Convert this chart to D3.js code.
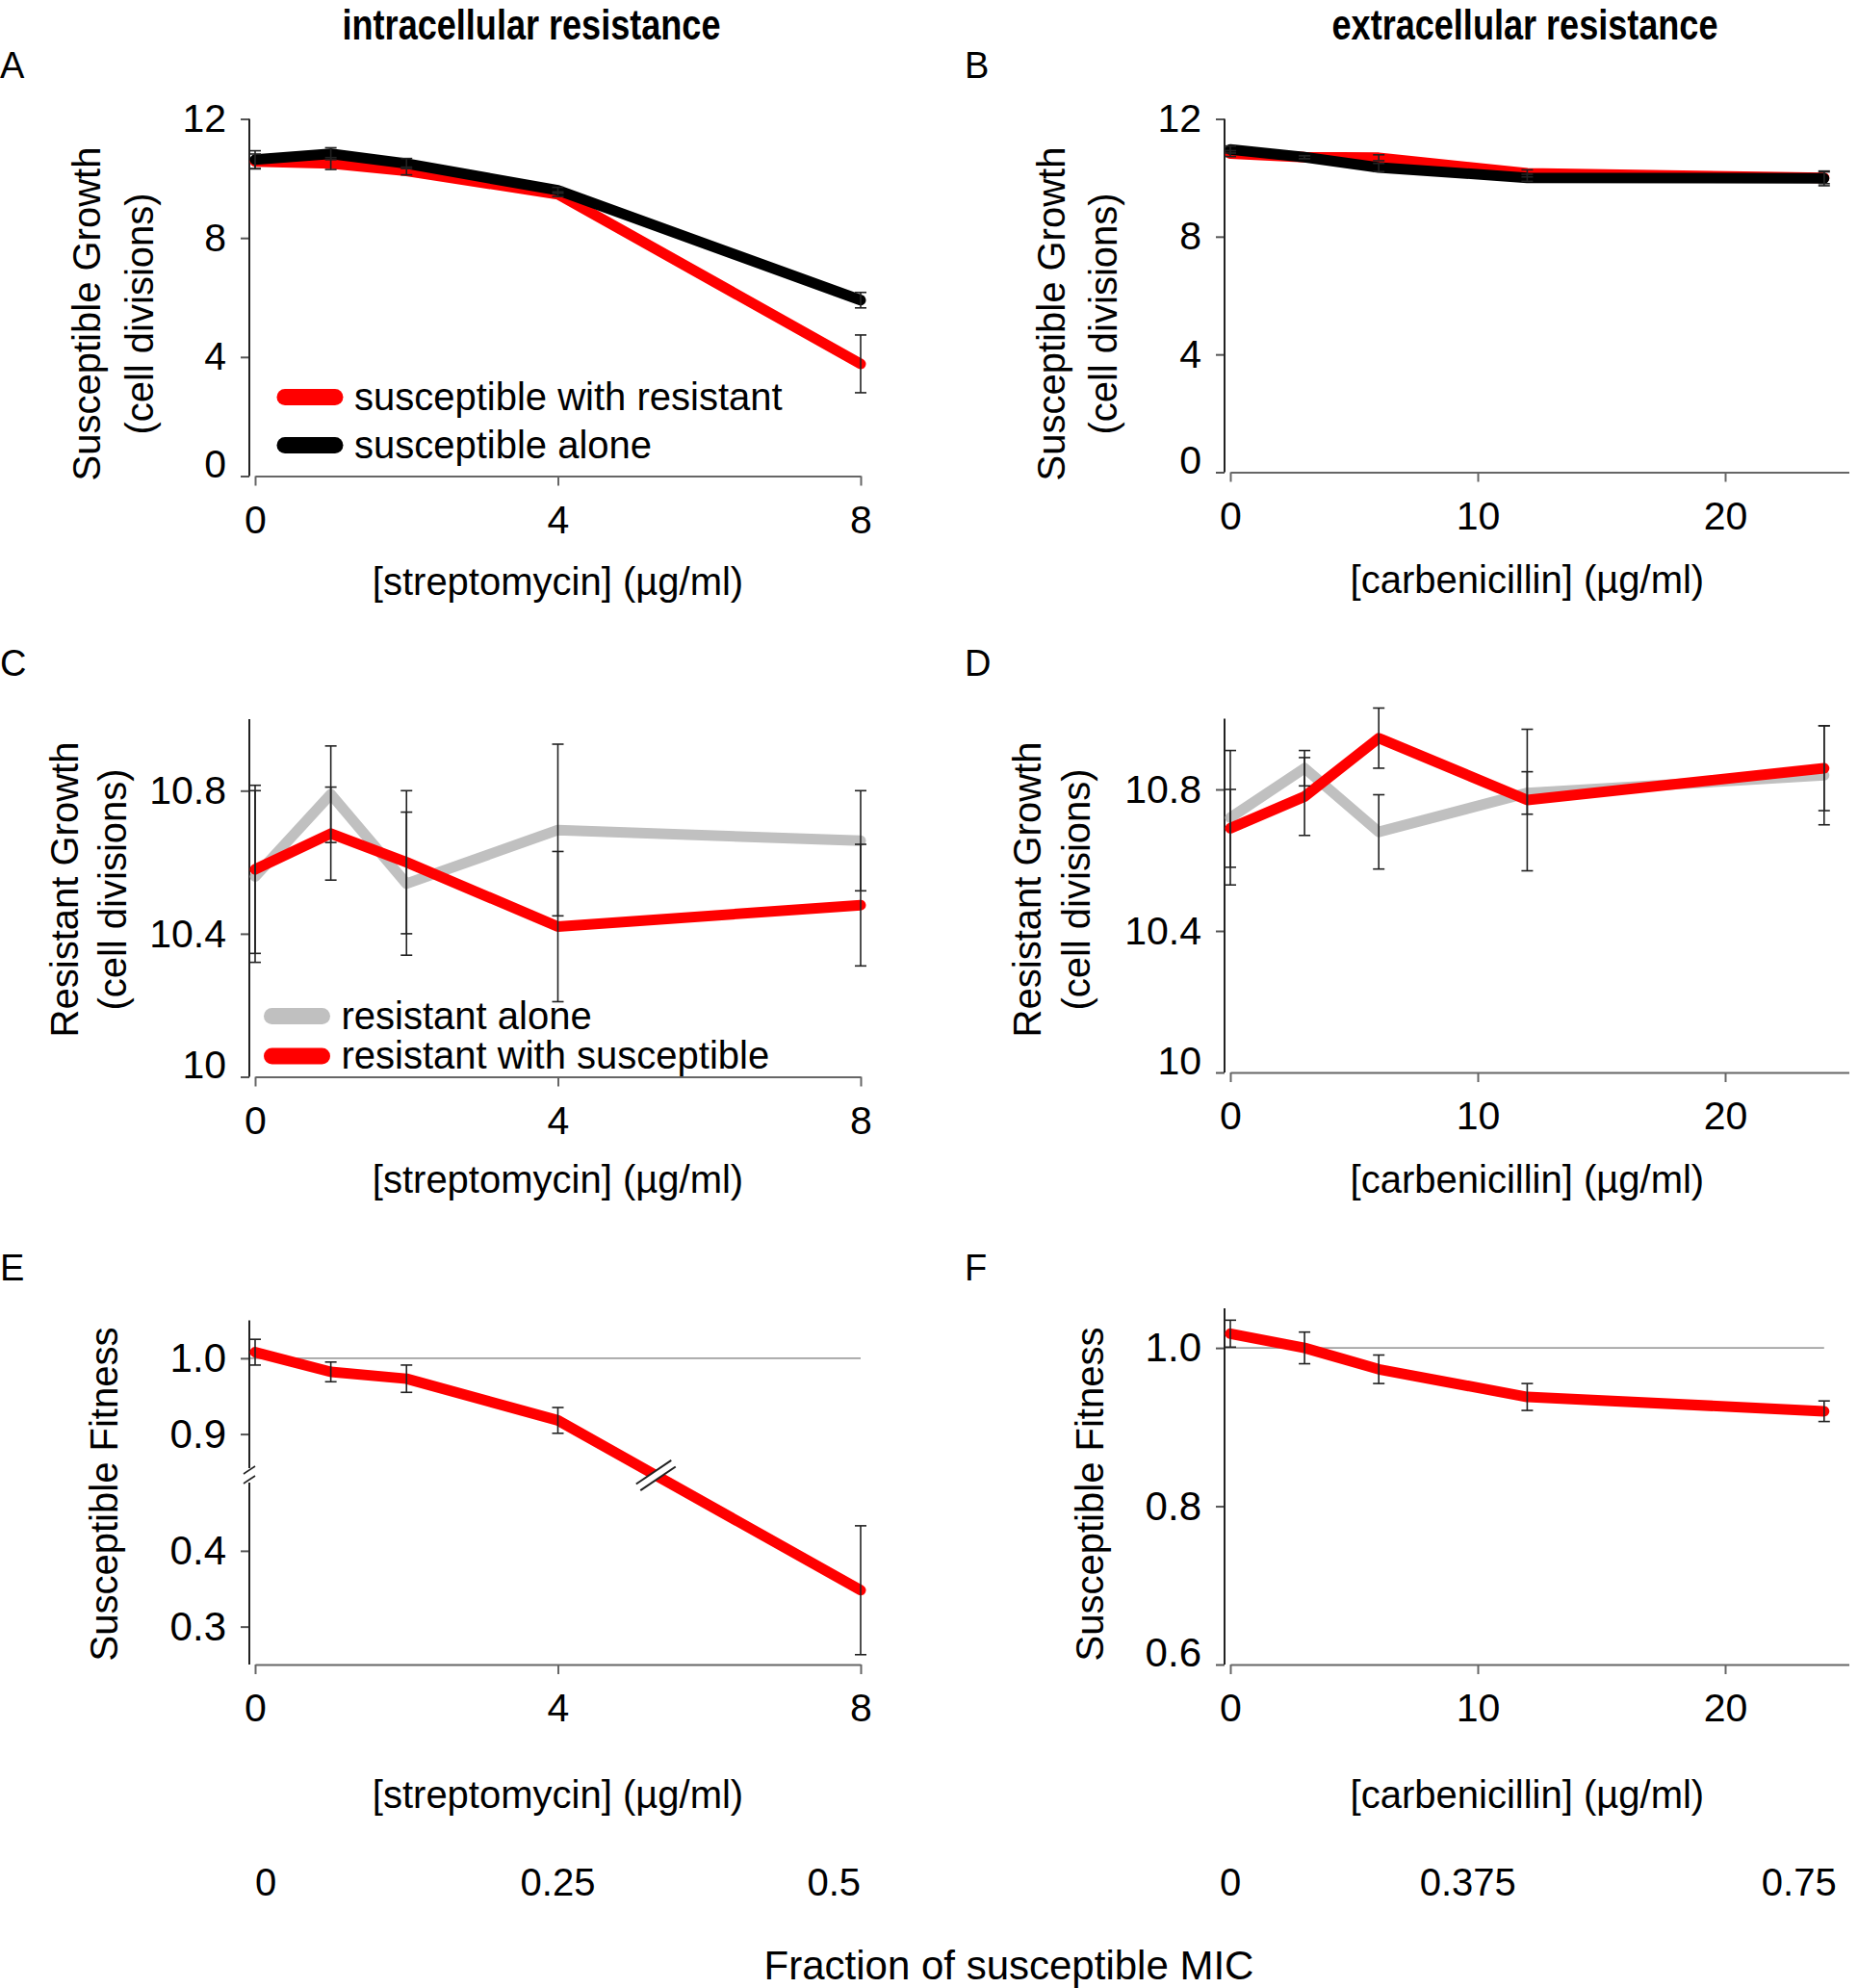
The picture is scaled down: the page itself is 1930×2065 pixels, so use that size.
<!DOCTYPE html>
<html>
<head>
<meta charset="utf-8">
<script src="https://cdn.jsdelivr.net/npm/d3@7"></script>
<style>
  body { margin: 0; background: #fff; }
  text { font-family: "Liberation Sans", Arial, sans-serif; fill: #000; }
</style>
</head>
<body>
<script>
// concentrations
const streptoDose = [0, 1, 2, 4, 8];
const carbDose = [0, 3, 6, 12, 24];

// A: susceptible growth, streptomycin
const aWithRes = [10.57, 10.5, 10.25, 9.47, 3.77];
const aWithResErr = [0.25, 0.2, 0.13, 0.08, 0.97];
const aAlone = [10.63, 10.83, 10.5, 9.6, 5.91];
const aAloneErr = [0.3, 0.2, 0.17, 0.1, 0.26];

// B: susceptible growth, carbenicillin
const bWithRes = [10.82, 10.7, 10.68, 10.15, 10.0];
const bWithResErr = [0.1, 0.05, 0.1, 0.12, 0.2];
const bAlone = [10.96, 10.7, 10.35, 10.0, 9.98];
const bAloneErr = [0.12, 0.05, 0.14, 0.12, 0.25];

// C: resistant growth, streptomycin
const cAlone = [10.56, 10.79, 10.54, 10.69, 10.66];
const cAloneErr = [0.24, 0.135, 0.2, 0.24, 0.14];
const cWithSus = [10.58, 10.68, 10.6, 10.42, 10.48];
const cWithSusErr = [0.235, 0.13, 0.2, 0.21, 0.17];

// D: resistant growth, carbenicillin
const dAlone = [10.72, 10.86, 10.68, 10.79, 10.84];
const dAloneErr = [0.19, 0.05, 0.105, 0.06, 0.14];
const dWithSus = [10.69, 10.78, 10.945, 10.77, 10.86];
const dWithSusErr = [0.11, 0.11, 0.085, 0.2, 0.12];

// E / F: susceptible fitness
const eFitness = [1.008, 0.982, 0.973, 0.918, 0.348];
const eFitnessErr = [0.017, 0.013, 0.018, 0.017, 0.085];
const fFitness = [1.018, 1.0, 0.973, 0.938, 0.92];
const fFitnessErr = [0.017, 0.02, 0.018, 0.017, 0.013];

// ticks and labels
const streptoTicks = [0, 4, 8];
const carbTicks = [0, 10, 20];
const growthTicks = [0, 4, 8, 12];
const resTicks = [10, 10.4, 10.8];
const eTicks = [0.3, 0.4, 0.9, 1.0];
const fTicks = [0.6, 0.8, 1.0];
const micE = ["0", "0.25", "0.5"];
const micF = ["0", "0.375", "0.75"];

const RED = "#ff0000", BLACK = "#000000", GRAY = "#c0c0c0";

const svg = d3.select("body").append("svg")
    .attr("width", 1930)
    .attr("height", 2065);

// column titles (condensed bold)
function title(txt, cx) {
    svg.append("text")
        .attr("transform", `translate(${cx},41) scale(0.82,1)`)
        .attr("text-anchor", "middle")
        .style("font-weight", "bold")
        .style("font-size", "44px")
        .text(txt);
}
title("intracellular resistance", 552);
title("extracellular resistance", 1584);

function series(values, errs, color, name) {
    return { values, errs, color, name };
}

function drawPanel(cfg) {
    const g = svg.append("g");
    const x = d3.scaleLinear().domain(cfg.xDomain).range(cfg.xRange);
    const y = d3.scaleLinear().domain(cfg.yDomain).range(cfg.yRange);
    const axisX = x(0) - 6;
    const axisY = d3.max(cfg.yRange);
    const yMin = cfg.yDomain[0];

    // panel letter
    g.append("text").attr("x", cfg.letterPos[0]).attr("y", cfg.letterPos[1])
        .style("font-size", "38px").text(cfg.letter);

    // reference line at 1
    if (cfg.refLine) {
        g.append("line")
            .attr("x1", axisX).attr("x2", x(cfg.xMax))
            .attr("y1", y(1)).attr("y2", y(1))
            .attr("stroke", "#a0a0a0").attr("stroke-width", 1.6);
    }

    // x axis
    const xa = g.append("g")
        .attr("transform", `translate(0,${axisY})`)
        .call(d3.axisBottom(x).tickValues(cfg.xTicks).tickSize(10).tickSizeOuter(0).tickPadding(20));
    xa.select(".domain").attr("stroke", "#666").attr("stroke-width", 2);
    xa.selectAll(".tick line").attr("stroke", "#666").attr("stroke-width", 2);
    xa.selectAll(".tick text").style("font-size", "41px").attr("fill", "#000")
        .style("font-family", "Liberation Sans, Arial, sans-serif");

    // y axis
    const ya = g.append("g")
        .attr("transform", `translate(${axisX},0)`)
        .call(d3.axisLeft(y).tickValues(cfg.yTicks).tickSize(9).tickPadding(15)
            .tickFormat(cfg.yFormat || (d => d)));
    ya.select(".domain").remove();
    ya.selectAll(".tick line").attr("stroke", "#555").attr("stroke-width", 2);
    ya.selectAll(".tick text").style("font-size", cfg.yTickSize + "px").attr("fill", "#000")
        .style("font-family", "Liberation Sans, Arial, sans-serif")
        // bottom label sits a little above its tick, clear of the x labels
        .attr("y", d => d === yMin ? -12 : 0);
    cfg.ySegments.forEach(s => {
        ya.append("line").attr("x1", 0).attr("x2", 0)
            .attr("y1", y(s[0])).attr("y2", y(s[1]))
            .attr("stroke", "#222").attr("stroke-width", 2);
    });

    // y title (one or two lines)
    cfg.yTitle.forEach((t, i) => {
        g.append("text")
            .attr("transform", `translate(${cfg.yTitleX[i]},${cfg.yTitleY}) rotate(-90)`)
            .attr("text-anchor", "middle")
            .style("font-size", "40px")
            .text(t);
    });

    // x title
    g.append("text")
        .attr("x", x(cfg.xMax / 2)).attr("y", cfg.xTitleY)
        .attr("text-anchor", "middle")
        .style("font-size", "40px")
        .text(cfg.xTitle);

    const line = d3.line().x((d, i) => x(cfg.dose[i])).y(d => y(d));

    cfg.series.forEach(s => {
        g.append("path")
            .datum(s.values)
            .attr("d", line)
            .attr("fill", "none")
            .attr("stroke", s.color)
            .attr("stroke-width", 11)
            .attr("stroke-linejoin", "round")
            .attr("stroke-linecap", "round");
    });

    // error bars
    cfg.series.forEach(s => {
        const eb = g.append("g");
        s.values.forEach((v, i) => {
            const cx = x(cfg.dose[i]);
            const lo = y(v - s.errs[i]), hi = y(v + s.errs[i]);
            eb.append("line").attr("x1", cx).attr("x2", cx).attr("y1", lo).attr("y2", hi);
            eb.append("line").attr("x1", cx - 6).attr("x2", cx + 6).attr("y1", lo).attr("y2", lo);
            eb.append("line").attr("x1", cx - 6).attr("x2", cx + 6).attr("y1", hi).attr("y2", hi);
        });
        eb.selectAll("line").attr("stroke", "#222").attr("stroke-width", 1.6);
    });

    // legend
    if (cfg.legend) {
        cfg.legend.items.forEach((s, i) => {
            const ly = cfg.legend.y + i * cfg.legend.step;
            g.append("line")
                .attr("x1", cfg.legend.x).attr("x2", cfg.legend.x + 52)
                .attr("y1", ly).attr("y2", ly)
                .attr("stroke", s.color).attr("stroke-width", 17)
                .attr("stroke-linecap", "round");
            g.append("text")
                .attr("x", cfg.legend.x + 72).attr("y", ly + 13)
                .style("font-size", "40px")
                .text(s.name);
        });
    }

    // fraction-of-MIC labels
    if (cfg.mic) {
        cfg.mic.labels.forEach((t, i) => {
            g.append("text")
                .attr("x", x(cfg.mic.at[i])).attr("y", 1969)
                .attr("text-anchor", cfg.mic.anchor[i])
                .style("font-size", "40px")
                .text(t);
        });
    }

    return { g, x, y, axisX };
}

// ---- row 1
drawPanel({
    letter: "A", letterPos: [0, 81],
    dose: streptoDose, xDomain: [0, 8], xRange: [265, 894], xMax: 8, xTicks: streptoTicks,
    yDomain: [0, 12], yRange: [494.5, 123.5], yTicks: growthTicks, yTickSize: 41,
    ySegments: [[0, 12]],
    yTitle: ["Susceptible Growth", "(cell divisions)"], yTitleX: [104, 159], yTitleY: 326,
    xTitle: "[streptomycin] (\u00b5g/ml)", xTitleY: 618,
    series: [series(aWithRes, aWithResErr, RED, "susceptible with resistant"),
             series(aAlone, aAloneErr, BLACK, "susceptible alone")],
    legend: { x: 296, y: 412.5, step: 50,
              items: [{ color: RED, name: "susceptible with resistant" },
                      { color: BLACK, name: "susceptible alone" }] }
});

drawPanel({
    letter: "B", letterPos: [1002, 81],
    dose: carbDose, xDomain: [0, 25], xRange: [1278, 1920.5], xMax: 24, xTicks: carbTicks,
    yDomain: [0, 12], yRange: [490.5, 123.5], yTicks: growthTicks, yTickSize: 41,
    ySegments: [[0, 12]],
    yTitle: ["Susceptible Growth", "(cell divisions)"], yTitleX: [1106, 1160], yTitleY: 326,
    xTitle: "[carbenicillin] (\u00b5g/ml)", xTitleY: 616,
    series: [series(bWithRes, bWithResErr, RED), series(bAlone, bAloneErr, BLACK)]
});

// ---- row 2
drawPanel({
    letter: "C", letterPos: [0, 702],
    dose: streptoDose, xDomain: [0, 8], xRange: [265, 894], xMax: 8, xTicks: streptoTicks,
    yDomain: [10, 11], yRange: [1118.5, 747], yTicks: resTicks, yTickSize: 41,
    ySegments: [[10, 11]],
    yTitle: ["Resistant Growth", "(cell divisions)"], yTitleX: [81, 131], yTitleY: 924,
    xTitle: "[streptomycin] (\u00b5g/ml)", xTitleY: 1239,
    series: [series(cAlone, cAloneErr, GRAY), series(cWithSus, cWithSusErr, RED)],
    legend: { x: 282.5, y: 1055.5, step: 41.5,
              items: [{ color: GRAY, name: "resistant alone" },
                      { color: RED, name: "resistant with susceptible" }] }
});

drawPanel({
    letter: "D", letterPos: [1002, 702],
    dose: carbDose, xDomain: [0, 25], xRange: [1278, 1920.5], xMax: 24, xTicks: carbTicks,
    yDomain: [10, 11], yRange: [1114, 746.5], yTicks: resTicks, yTickSize: 41,
    ySegments: [[10, 11]],
    yTitle: ["Resistant Growth", "(cell divisions)"], yTitleX: [1081, 1132], yTitleY: 924,
    xTitle: "[carbenicillin] (\u00b5g/ml)", xTitleY: 1239,
    series: [series(dAlone, dAloneErr, GRAY), series(dWithSus, dWithSusErr, RED)]
});

// ---- row 3 (E has a broken y axis)
const pE = drawPanel({
    letter: "E", letterPos: [0, 1330],
    dose: streptoDose, xDomain: [0, 8], xRange: [265, 894], xMax: 8, xTicks: streptoTicks,
    yDomain: [0.25, 0.49, 0.855, 1.05], yRange: [1729, 1540, 1525, 1371.5],
    yTicks: eTicks, yTickSize: 42, yFormat: d3.format(".1f"),
    ySegments: [[0.25, 0.49], [0.855, 1.05]],
    yTitle: ["Susceptible Fitness"], yTitleX: [122], yTitleY: 1552,
    xTitle: "[streptomycin] (\u00b5g/ml)", xTitleY: 1878,
    refLine: true,
    series: [series(eFitness, eFitnessErr, RED)],
    mic: { labels: micE, at: [0, 4, 8], anchor: ["start", "middle", "end"] }
});

drawPanel({
    letter: "F", letterPos: [1002, 1330],
    dose: carbDose, xDomain: [0, 25], xRange: [1278, 1920.5], xMax: 24, xTicks: carbTicks,
    yDomain: [0.6, 1.05], yRange: [1729, 1359], yTicks: fTicks, yTickSize: 42,
    yFormat: d3.format(".1f"),
    ySegments: [[0.6, 1.05]],
    yTitle: ["Susceptible Fitness"], yTitleX: [1146], yTitleY: 1552,
    xTitle: "[carbenicillin] (\u00b5g/ml)", xTitleY: 1878,
    refLine: true,
    series: [series(fFitness, fFitnessErr, RED)],
    mic: { labels: micF, at: [0, 9.6, 24.5], anchor: ["middle", "middle", "end"] }
});

// break marks for panel E
{
    const { g, x, y, axisX } = pE;
    const gapMid = (y(0.855) + y(0.49)) / 2;
    const p4 = [x(streptoDose[3]), y(eFitness[3])];
    const p8 = [x(streptoDose[4]), y(eFitness[4])];
    const t = (gapMid - p4[1]) / (p8[1] - p4[1]);
    const bx = p4[0] + t * (p8[0] - p4[0]);
    const brk = g.append("g").attr("transform", `translate(${bx},${gapMid}) rotate(-34)`);
    brk.append("rect").attr("x", -24).attr("y", -4).attr("width", 48).attr("height", 8).attr("fill", "#fff");
    [-4, 4].forEach(o => brk.append("line")
        .attr("x1", -22).attr("x2", 22).attr("y1", o).attr("y2", o)
        .attr("stroke", "#222").attr("stroke-width", 2));

    // slashes on the y axis
    [y(0.855) + 2, y(0.49) - 3].forEach(yy => {
        g.append("line")
            .attr("x1", axisX - 6).attr("x2", axisX + 6)
            .attr("y1", yy + 4).attr("y2", yy - 4)
            .attr("stroke", "#222").attr("stroke-width", 1.6);
    });
}

svg.append("text")
    .attr("x", 1048).attr("y", 2056)
    .attr("text-anchor", "middle")
    .style("font-size", "42px")
    .text("Fraction of susceptible MIC");
</script>
</body>
</html>
